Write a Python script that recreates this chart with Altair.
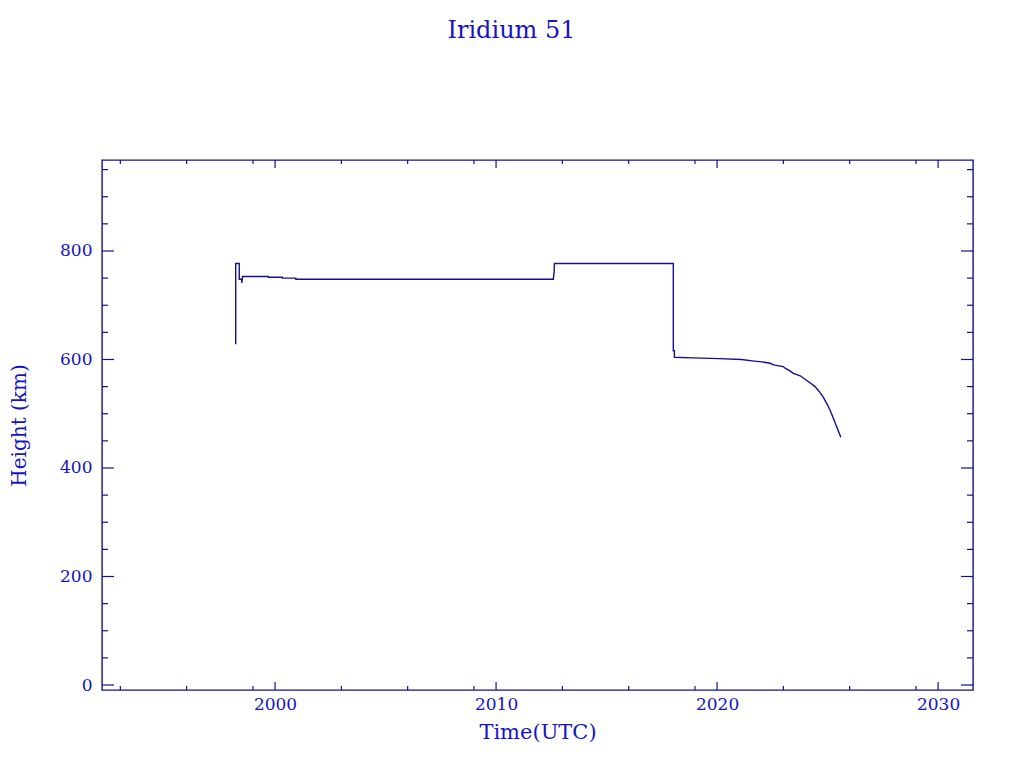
import altair as alt
import pandas as pd

# ---- data ----
years = [1998.22, 1998.22, 1998.38, 1998.38, 1998.49, 1998.50, 1998.53, 1999.70, 1999.70,
         2000.33, 2000.33, 2000.94, 2000.94, 2012.59, 2012.63, 2012.64, 2012.68, 2018.02,
         2018.02, 2018.07, 2018.07, 2018.93, 2020.10, 2021.10, 2021.69, 2022.14, 2022.40,
         2022.55, 2022.99, 2023.08, 2023.30, 2023.45, 2023.76, 2023.98, 2024.21, 2024.43,
         2024.63, 2024.81, 2024.96, 2025.11, 2025.26, 2025.42, 2025.60]
heights = [628, 777, 777, 748, 748, 741, 753, 753, 751.5,
           751.5, 750, 750, 748, 748, 762, 777, 777, 777,
           616, 616, 604, 603, 601.5, 600, 597, 595, 593,
           590, 587, 584, 579, 574.5, 570, 563.5, 557, 550,
           540.6, 530, 519, 507, 491.6, 475, 456.6]

x_major = [2000, 2010, 2020, 2030]
x_minor = [1993, 1996, 1999, 2003, 2006, 2009, 2013, 2016, 2019, 2023, 2026, 2029]
y_major = [0, 200, 400, 600, 800]
y_minor = [50, 100, 150, 250, 300, 350, 450, 500, 550, 650, 700, 750, 850, 900, 950]

title_text = "Iridium 51"
x_title = "Time(UTC)"
y_title = "Height (km)"

LINE = "#12128f"
TEXT = "#1414c4"
FONT = "DejaVu Serif"
W, H = 871, 530

df = pd.DataFrame({"year": years, "height": heights, "i": list(range(len(years)))})
xs = alt.Scale(domain=[1992.17, 2031.58], nice=False, zero=False)
ys = alt.Scale(domain=[-9.2, 967.7], nice=False, zero=False)

x_axis = alt.Axis(values=x_major, format="d", domain=False, ticks=False, grid=False,
                  labelFont=FONT, labelFontSize=17, labelColor=TEXT, labelPadding=6,
                  title=x_title, titleFont=FONT, titleFontSize=21, titleFontWeight="normal",
                  titleColor=TEXT, titleX=W / 2, titleY=42, titleBaseline="middle")
y_axis = alt.Axis(values=y_major, format="d", domain=False, ticks=False, grid=False,
                  labelFont=FONT, labelFontSize=17, labelColor=TEXT, labelPadding=10,
                  title=y_title, titleFont=FONT, titleFontSize=20, titleFontWeight="normal",
                  titleColor=TEXT, titleX=-83, titleY=H / 2, titleAngle=-90,
                  titleAlign="center", titleBaseline="middle")

line = alt.Chart(df).mark_line(color=LINE, strokeWidth=1.4, interpolate="linear").encode(
    x=alt.X("year:Q", scale=xs, axis=x_axis),
    y=alt.Y("height:Q", scale=ys, axis=y_axis),
    order="i:Q",
)

def xticks(vals, length):
    d = pd.DataFrame({"v": vals})
    bot = alt.Chart(d).mark_rule(color=LINE, strokeWidth=1.2).encode(
        x=alt.X("v:Q", scale=xs), y=alt.value(H), y2=alt.value(H - length))
    top = alt.Chart(d).mark_rule(color=LINE, strokeWidth=1.2).encode(
        x=alt.X("v:Q", scale=xs), y=alt.value(0), y2=alt.value(length))
    return [bot, top]

def yticks(vals, length):
    d = pd.DataFrame({"v": vals})
    left = alt.Chart(d).mark_rule(color=LINE, strokeWidth=1.2).encode(
        y=alt.Y("v:Q", scale=ys), x=alt.value(0), x2=alt.value(length))
    right = alt.Chart(d).mark_rule(color=LINE, strokeWidth=1.2).encode(
        y=alt.Y("v:Q", scale=ys), x=alt.value(W), x2=alt.value(W - length))
    return [left, right]

layers = [line] + xticks(x_major, 8) + xticks(x_minor, 4) + yticks(y_major, 12) + yticks(y_minor, 6)

chart = alt.layer(*layers).properties(
    width=W, height=H,
    background="white",
    title=alt.TitleParams(title_text, font=FONT, fontSize=24, fontWeight="normal",
                          color=TEXT, anchor="middle", dx=-26, offset=116),
    autosize=alt.AutoSizeParams(type="none"),
    padding={"left": 94, "top": 152, "right": 40, "bottom": 60},
).configure_view(stroke=LINE, strokeWidth=1.4)

chart.save("out.html", embed_options={"renderer": "svg", "actions": False})
